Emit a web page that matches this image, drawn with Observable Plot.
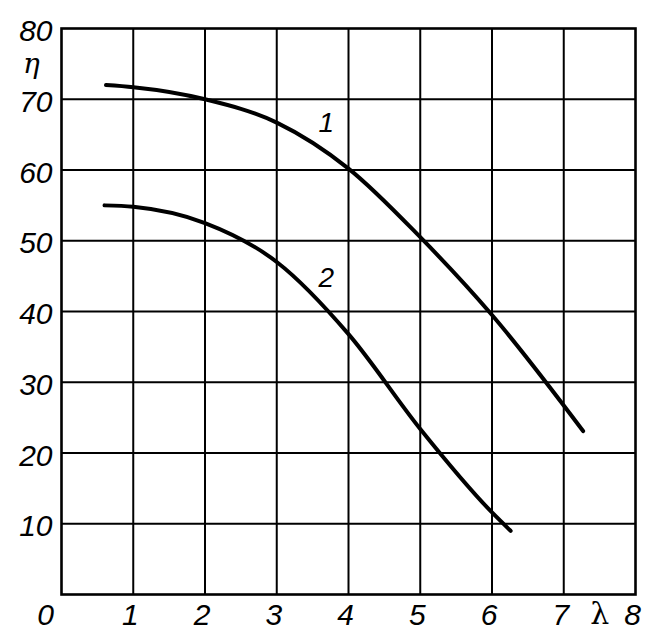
<!DOCTYPE html>
<html>
<head>
<meta charset="utf-8">
<script src="https://cdn.jsdelivr.net/npm/d3@7"></script>
<script src="https://cdn.jsdelivr.net/npm/@observablehq/plot@0.6"></script>
<style>
  html, body { margin: 0; padding: 0; background: #fff; }
  #chart svg { display: block; }
</style>
</head>
<body>
<div id="chart"></div>
<script>
// Curve 1
const x1 = [0.62, 1, 2, 3, 4, 5, 6, 7.27];
const y1 = [72, 71.7, 70, 66.7, 60.2, 50.5, 39.5, 23.1];
// Curve 2
const x2 = [0.6, 1, 2, 3, 4, 5, 6, 6.26];
const y2 = [55, 54.8, 52.5, 47, 36.8, 23.4, 11.6, 9];
// Curve labels
const curveLabels = ["1", "2"];
const labelX = [3.69, 3.69];
const labelY = [66.6, 44.8];
// Ticks
const xTicks = [1, 2, 3, 4, 5, 6, 7, 8];
const yTicks = [10, 20, 30, 40, 50, 60, 70, 80];
const gridX = [1, 2, 3, 4, 5, 6, 7];
const gridY = [10, 20, 30, 40, 50, 60, 70];
const xName = "λ";
const yName = "η";

const s1 = x1.map((x, i) => ({x, y: y1[i]}));
const s2 = x2.map((x, i) => ({x, y: y2[i]}));
const labs = curveLabels.map((t, i) => ({t, x: labelX[i], y: labelY[i]}));

const font = "'Liberation Sans', Arial, sans-serif";

const chart = Plot.plot({
  width: 645,
  height: 641,
  marginLeft: 61,
  marginRight: 10,
  marginTop: 28,
  marginBottom: 47,
  style: {background: "#fff", fontFamily: font, color: "#000"},
  x: {domain: [0, 8]},
  y: {domain: [0, 80]},
  marks: [
    Plot.ruleX(gridX, {stroke: "#000", strokeWidth: 2}),
    Plot.ruleY(gridY, {stroke: "#000", strokeWidth: 2}),
    Plot.frame({stroke: "#000", strokeWidth: 2.6}),
    Plot.line(s1, {x: "x", y: "y", curve: "monotone-x", stroke: "#000", strokeWidth: 4, strokeLinecap: "round"}),
    Plot.line(s2, {x: "x", y: "y", curve: "monotone-x", stroke: "#000", strokeWidth: 4, strokeLinecap: "round"}),
    Plot.text(labs, {x: "x", y: "y", text: "t", fontSize: 28, fontStyle: "italic", fill: "#000", fontFamily: font}),
    Plot.axisY({ticks: yTicks, tickSize: 0, tickPadding: 9, dy: 3, fontSize: 30, fontStyle: "italic", label: null, fill: "#000"}),
    Plot.axisX({ticks: xTicks, tickSize: 0, tickPadding: 9, dx: -3, fontSize: 30, fontStyle: "italic", label: null, fill: "#000"}),
    Plot.text([0], {x: d => d, y: () => 0, text: d => String(d), dx: -16, dy: 21, fontSize: 30, fontStyle: "italic", fill: "#000", fontFamily: font}),
    Plot.text([xName], {x: () => 7.5, y: () => 0, text: d => d, dy: 20, fontSize: 30, fill: "#000", fontFamily: "'DejaVu Serif', serif"}),
    Plot.text([yName], {x: () => 0, y: () => 80, text: d => d, dx: -30, dy: 36, fontSize: 28, fontStyle: "italic", fill: "#000", fontFamily: "'DejaVu Serif', serif"})
  ]
});
document.getElementById("chart").appendChild(chart);
</script>
</body>
</html>
